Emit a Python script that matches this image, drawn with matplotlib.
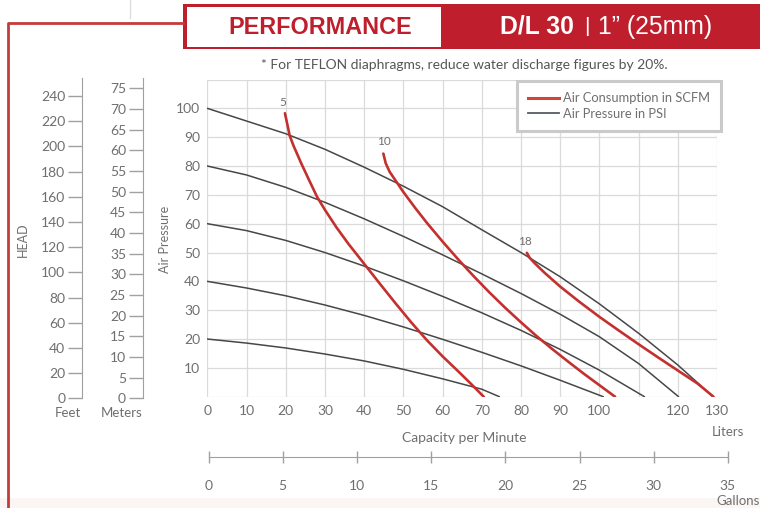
import matplotlib
matplotlib.use('Agg')
import matplotlib.pyplot as plt
from matplotlib.patches import Rectangle
from matplotlib.lines import Line2D

plt.rcParams['font.family'] = ['Lato', 'DejaVu Sans']

# ---- data (flow in liters/min, air pressure scale) ----
p100_x = [0, 10, 20, 30, 40, 50, 60, 70, 80, 90, 100, 110, 120, 129]
p100_y = [100, 95.6, 91.2, 85.8, 79.6, 73, 65.9, 57.9, 50, 41.6, 32.2, 22, 11, 0]
p80_x = [0, 10, 20, 30, 40, 50, 60, 70, 80, 90, 100, 110, 120.2]
p80_y = [80, 76.9, 72.6, 67.4, 61.7, 55.6, 49.2, 42.6, 35.8, 28.6, 20.8, 11.5, 0]
p60_x = [0, 10, 20, 30, 40, 50, 60, 70, 80, 90, 100, 111.5]
p60_y = [60, 57.6, 54.2, 50, 45.3, 40.2, 34.8, 29.1, 23, 16.4, 9.2, 0]
p40_x = [0, 10, 20, 30, 40, 50, 60, 70, 80, 90, 101]
p40_y = [40, 37.7, 35, 31.8, 28.2, 24.2, 19.9, 15.4, 10.7, 5.7, 0]
p20_x = [0, 10, 20, 30, 40, 50, 60, 70, 74.5]
p20_y = [20, 18.6, 16.9, 14.8, 12.4, 9.5, 6.2, 2.6, 0]

scfm5_x = [19.8, 20.4, 21, 22, 24, 26, 28, 30, 33, 36, 40, 44, 48, 52, 56, 60, 64, 67, 70.5]
scfm5_y = [98.3, 94.5, 90.6, 87, 80.8, 75, 69.3, 64.8, 58.6, 53, 46.1, 39.2, 32.4, 25.8, 19.6, 14, 8.8, 4.8, 0]
scfm10_x = [44.9, 45.5, 46.5, 48, 50, 53, 56, 60, 64, 68, 72, 76, 80, 84, 88, 92, 96, 100, 104]
scfm10_y = [84.3, 81, 78, 75, 71, 65.5, 60.3, 53.8, 47.6, 41.7, 36.1, 30.8, 25.8, 21, 16.5, 12.2, 8, 4, 0]
scfm18_x = [81.5, 82.2, 83.5, 86, 90, 95, 100, 105, 110, 115, 120, 125, 129.1]
scfm18_y = [49.9, 48.2, 46.3, 43, 38.2, 32.8, 27.7, 22.9, 18.2, 13.6, 9.1, 4.6, 0]

scfm_labels = ['5', '10', '18']
scfm_label_x = [19.3, 45.1, 81.1]
scfm_label_y = [101.9, 88.4, 53.8]

liter_ticks = [0, 10, 20, 30, 40, 50, 60, 70, 80, 90, 100, 110, 120, 130]
liter_labels = ['0', '10', '20', '30', '40', '50', '60', '70', '80', '90', '100', '', '120', '130']
psi_ticks = [0, 10, 20, 30, 40, 50, 60, 70, 80, 90, 100, 110]
psi_labels = ['', '10', '20', '30', '40', '50', '60', '70', '80', '90', '100', '']
feet_ticks = list(range(0, 241, 20))
meter_ticks = list(range(0, 76, 5))
gallon_ticks = list(range(0, 36, 5))
LITERS_PER_GALLON = 3.785

W, H = 760, 508
RED = '#bf1e2c'
CURVE_RED = '#c3302e'
DARK = '#474747'
TXT = '#6f6f6f'
GRID = '#dadada'
AXLINE = '#a0a0a0'


def fx(px):
    return px / W


def fy(py):
    return 1 - py / H


fig = plt.figure(figsize=(W / 100, H / 100), dpi=100)
fig.patch.set_facecolor('white')

# main chart
ax = fig.add_axes([fx(207.3), fy(396.7), (717 - 207.3) / W, (396.7 - 79.5) / H])
ax.set_xlim(0, 130)
ax.set_ylim(0, 110)
ax.set_xticks(liter_ticks)
ax.set_xticklabels(liter_labels)
ax.set_yticks(psi_ticks)
ax.set_yticklabels(psi_labels)
ax.tick_params(length=0, labelsize=10, labelcolor=TXT)
ax.tick_params(axis='x', pad=6)
ax.tick_params(axis='y', pad=5)
ax.grid(True, color=GRID, lw=0.9)
for s in ax.spines.values():
    s.set_visible(False)

for xs, ys in [(p100_x, p100_y), (p80_x, p80_y), (p60_x, p60_y), (p40_x, p40_y), (p20_x, p20_y)]:
    ax.plot(xs, ys, color=DARK, lw=1.1, solid_capstyle='round', solid_joinstyle='round')
for xs, ys in [(scfm5_x, scfm5_y), (scfm10_x, scfm10_y), (scfm18_x, scfm18_y)]:
    ax.plot(xs, ys, color=CURVE_RED, lw=1.9, solid_capstyle='round', solid_joinstyle='round')
for t, x, y in zip(scfm_labels, scfm_label_x, scfm_label_y):
    ax.text(x, y, t, ha='center', va='center', fontsize=8.5, color=TXT)

handles = [Line2D([], [], color='#d0453a', lw=2.2), Line2D([], [], color='#555a66', lw=1.3)]
leg = ax.legend(handles, ['Air Consumption in SCFM', 'Air Pressure in PSI'],
                loc='upper right', bbox_to_anchor=(1.008, 0.995), borderaxespad=0,
                fancybox=False, fontsize=9.3, handlelength=2.4, handletextpad=0.3,
                labelspacing=0.3, borderpad=0.85, framealpha=1)
leg.get_frame().set_edgecolor('#cacaca')
leg.get_frame().set_linewidth(2.2)
for t in leg.get_texts():
    t.set_color(TXT)

# head scales on the left
axf = fig.add_axes([fx(82), fy(398.3), 0.001, (398.3 - 78) / H])
axf.set_ylim(0, 254.3)
axm = fig.add_axes([fx(142.7), fy(398.3), 0.001, (398.3 - 78) / H])
axm.set_ylim(0, 77.5)
for a, ticks in [(axf, feet_ticks), (axm, meter_ticks)]:
    a.set_yticks(ticks)
    a.set_xticks([])
    for k in ['top', 'right', 'bottom']:
        a.spines[k].set_visible(False)
    a.spines['left'].set_color(AXLINE)
    a.tick_params(axis='y', length=10, width=1, color=AXLINE, labelsize=10,
                  labelcolor=TXT, pad=2)
    a.patch.set_visible(False)

# gallons scale below
gal_w = (717 - 207.3) / W * (35 * LITERS_PER_GALLON / 130)
axg = fig.add_axes([fx(208.5), fy(456.7), gal_w, 0.001])
axg.set_xlim(0, 35)
axg.set_xticks(gallon_ticks)
axg.set_yticks([])
for k in ['top', 'right', 'left']:
    axg.spines[k].set_visible(False)
axg.spines['bottom'].set_color(AXLINE)
axg.tick_params(axis='x', direction='inout', length=9, width=1, color=AXLINE,
                labelsize=10, labelcolor=TXT, pad=12)
axg.patch.set_visible(False)

# axis titles
fig.text(fx(165), fy(239), 'Air Pressure', rotation=90, ha='center', va='center', fontsize=9, color=TXT)
fig.text(fx(23), fy(240), 'HEAD', rotation=90, ha='center', va='center', fontsize=9, color=TXT)
fig.text(fx(68), fy(413), 'Feet', ha='center', va='center', fontsize=9.5, color=TXT)
fig.text(fx(122), fy(413), 'Meters', ha='center', va='center', fontsize=9.5, color=TXT)
fig.text(fx(464), fy(438), 'Capacity per Minute', ha='center', va='center', fontsize=10, color=TXT)
fig.text(fx(728), fy(432), 'Liters', ha='center', va='center', fontsize=9.5, color=TXT)
fig.text(fx(738), fy(501), 'Gallons', ha='center', va='center', fontsize=9.5, color=TXT)
fig.text(fx(464), fy(65), '* For TEFLON diaphragms, reduce water discharge figures by 20%.',
         ha='center', va='center', fontsize=10, color='#555555')

# header band and frame line
fig.add_artist(Rectangle((fx(183), fy(49)), 1 - fx(183), (49 - 4) / H,
                         transform=fig.transFigure, facecolor=RED, edgecolor='none'))
fig.add_artist(Rectangle((fx(187), fy(46.7)), (441 - 187) / W, (46.7 - 7.3) / H,
                         transform=fig.transFigure, facecolor='white', edgecolor='none'))
fig.add_artist(Line2D([fx(7.5), fx(7.5), fx(183)], [0, fy(22.7), fy(22.7)],
                      transform=fig.transFigure, color='#c43b3d', lw=2))
fig.add_artist(Line2D([fx(130), fx(130)], [1, fy(18)], transform=fig.transFigure, color='#dddddd', lw=1))
fig.add_artist(Rectangle((0, 0), 1, (508 - 498) / H, transform=fig.transFigure,
                         facecolor='#fbf5f3', edgecolor='none'))

hfont = ['Liberation Sans', 'DejaVu Sans']
fig.text(fx(320), fy(27), 'PERFORMANCE', ha='center', va='center', fontsize=16.8,
         fontweight='bold', color=RED, family=hfont)
fig.text(fx(500), fy(27), 'D/L 30', ha='left', va='center', fontsize=17.8,
         fontweight='bold', color='white', family=hfont)
fig.text(fx(587), fy(27), '|', ha='center', va='center', fontsize=15, color='white', family=hfont)
fig.text(fx(598), fy(27), '1\u201d (25mm)', ha='left', va='center', fontsize=17.8,
         color='white', family=hfont)

fig.savefig('out.png', dpi=100)
